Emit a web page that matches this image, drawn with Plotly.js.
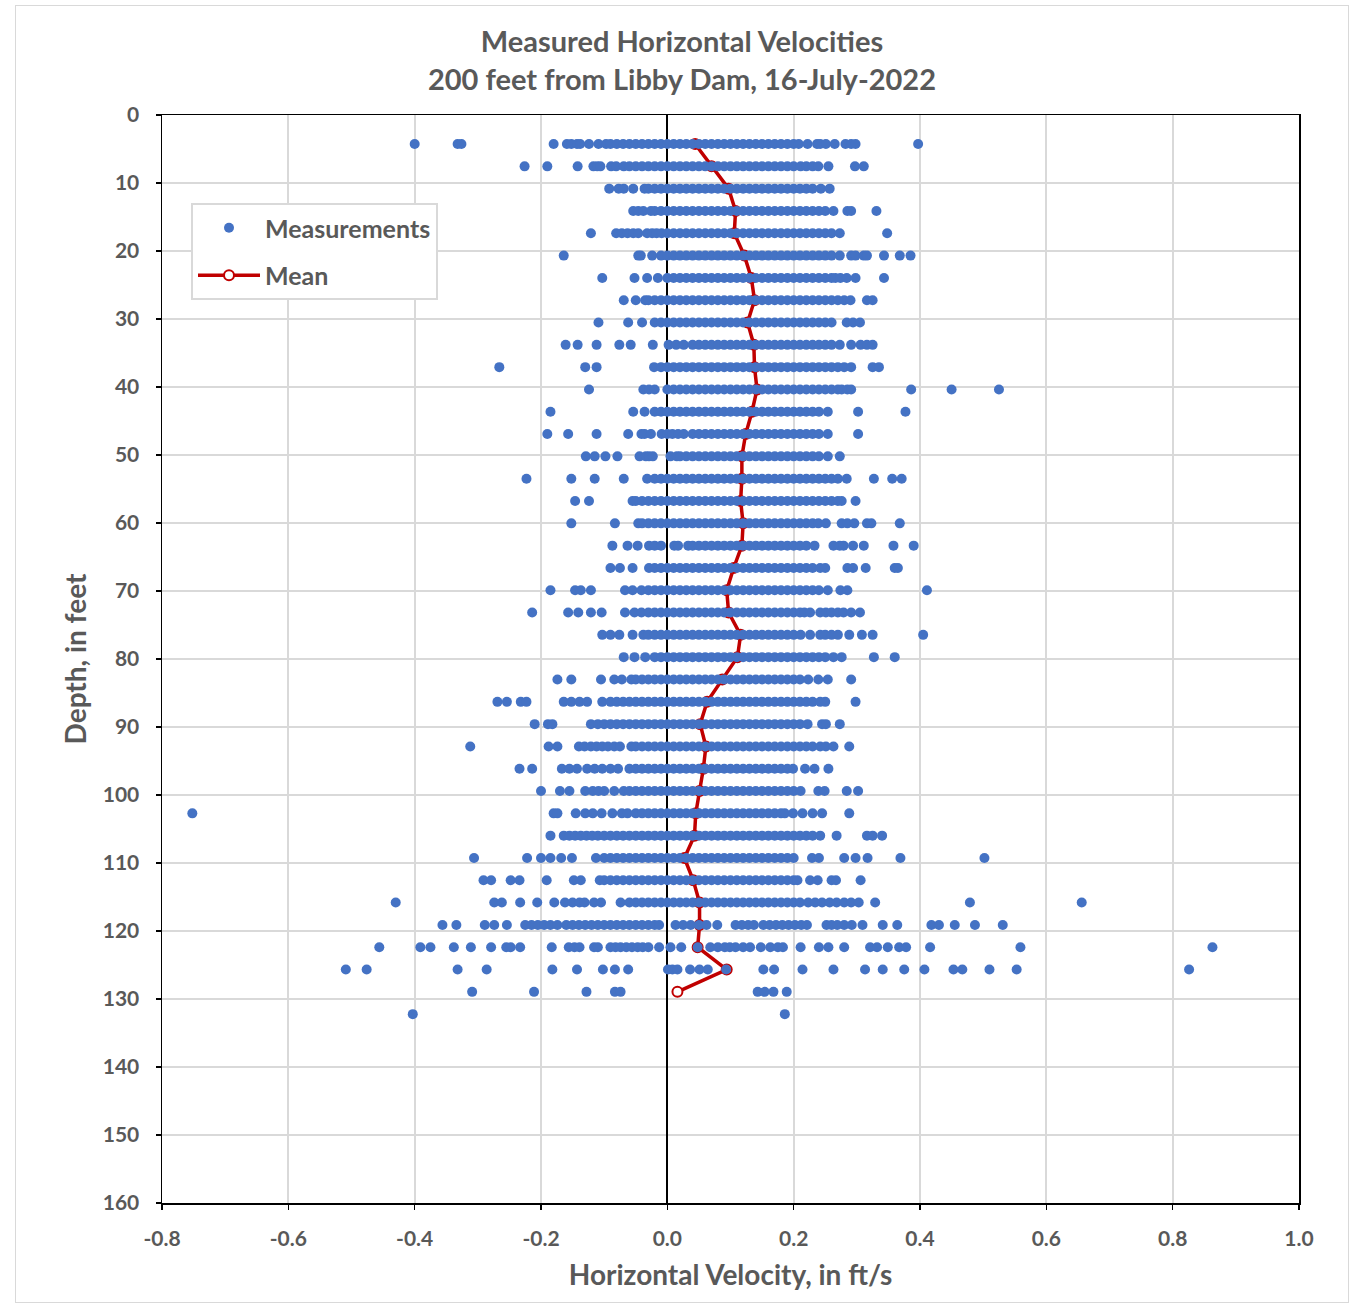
<!DOCTYPE html>
<html><head><meta charset="utf-8">
<script src="https://cdn.plot.ly/plotly-3.0.1.min.js"></script>
<style>
body{margin:0;background:#fff}
#wrap{position:absolute;left:15px;top:5px;width:1332px;height:1296px;border:1px solid #d9d9d9;}
#chart{width:1332px;height:1296px}
</style>
</head><body><div id="wrap"><div id="chart"></div></div>
<script>
// Depth of each measurement row (ft)
const depthFt = [4.27,7.55,10.83,14.11,17.39,20.68,23.96,27.24,30.52,33.80,37.08,40.36,43.64,46.92,50.20,53.49,56.77,60.05,63.33,66.61,69.89,73.17,76.45,79.73,83.01,86.30,89.58,92.86,96.14,99.42,102.70,105.98,109.26,112.54,115.82,119.11,122.39,125.67,128.95,132.23];

// Mean horizontal velocity per row (ft/s)
const meanVel = [0.044,0.07,0.097,0.108,0.106,0.122,0.133,0.138,0.127,0.137,0.138,0.142,0.134,0.124,0.118,0.118,0.116,0.12,0.118,0.105,0.094,0.097,0.116,0.111,0.087,0.063,0.052,0.061,0.057,0.051,0.045,0.043,0.027,0.041,0.051,0.051,0.048,0.094,0.016];

// Individual measurements per row (ft/s)
const v01 = [-0.40,-0.332,-0.326,-0.18,-0.159,-0.152,-0.143,-0.138,-0.124,-0.109,-0.097,-0.09,-0.08,-0.07,-0.06,-0.05,-0.04,-0.03,-0.02,-0.01,0.00,0.01,0.02,0.03,0.04,0.05,0.06,0.07,0.08,0.09,0.10,0.11,0.12,0.13,0.14,0.15,0.16,0.17,0.18,0.19,0.20,0.208,0.222,0.237,0.242,0.251,0.265,0.282,0.291,0.298,0.397];
const v02 = [-0.226,-0.19,-0.142,-0.117,-0.111,-0.106,-0.089,-0.081,-0.069,-0.06,-0.05,-0.04,-0.03,-0.02,-0.01,0.00,0.01,0.02,0.03,0.04,0.05,0.06,0.07,0.08,0.09,0.10,0.11,0.12,0.13,0.14,0.15,0.16,0.17,0.18,0.19,0.20,0.211,0.22,0.23,0.239,0.255,0.297,0.311];
const v03 = [-0.092,-0.077,-0.069,-0.054,-0.036,-0.03,-0.02,-0.01,0.00,0.01,0.02,0.03,0.04,0.05,0.06,0.07,0.08,0.09,0.10,0.11,0.12,0.13,0.14,0.15,0.16,0.17,0.18,0.19,0.20,0.21,0.22,0.23,0.243,0.257];
const v04 = [-0.054,-0.046,-0.038,-0.026,-0.02,-0.01,0.00,0.01,0.02,0.03,0.04,0.05,0.06,0.07,0.08,0.09,0.10,0.11,0.12,0.13,0.14,0.15,0.16,0.17,0.18,0.19,0.20,0.21,0.22,0.23,0.24,0.25,0.263,0.285,0.291,0.331];
const v05 = [-0.121,-0.081,-0.072,-0.063,-0.054,-0.046,-0.032,-0.024,-0.017,-0.009,0.00,0.01,0.02,0.03,0.04,0.05,0.06,0.07,0.08,0.09,0.10,0.11,0.12,0.13,0.14,0.15,0.16,0.17,0.18,0.19,0.20,0.21,0.22,0.23,0.24,0.25,0.26,0.273,0.348];
const v06 = [-0.164,-0.046,-0.042,-0.024,-0.01,0.00,0.01,0.02,0.03,0.04,0.05,0.06,0.07,0.08,0.09,0.10,0.11,0.12,0.13,0.14,0.15,0.16,0.17,0.18,0.19,0.20,0.21,0.22,0.23,0.24,0.25,0.26,0.273,0.291,0.298,0.311,0.316,0.343,0.368,0.385];
const v07 = [-0.103,-0.052,-0.032,-0.015,0.00,0.01,0.02,0.03,0.04,0.05,0.06,0.07,0.08,0.09,0.10,0.11,0.12,0.13,0.14,0.15,0.16,0.17,0.18,0.19,0.20,0.21,0.22,0.23,0.24,0.25,0.26,0.266,0.274,0.284,0.298,0.343];
const v08 = [-0.069,-0.05,-0.035,-0.03,-0.02,-0.01,0.00,0.01,0.02,0.03,0.04,0.05,0.06,0.07,0.08,0.09,0.10,0.11,0.12,0.13,0.14,0.15,0.16,0.17,0.18,0.19,0.20,0.21,0.22,0.23,0.24,0.25,0.26,0.27,0.28,0.29,0.316,0.325];
const v09 = [-0.109,-0.062,-0.04,-0.02,-0.01,0.00,0.01,0.02,0.03,0.04,0.05,0.06,0.07,0.08,0.09,0.10,0.11,0.12,0.13,0.14,0.15,0.16,0.17,0.18,0.19,0.20,0.21,0.22,0.23,0.24,0.25,0.26,0.284,0.294,0.305];
const v10 = [-0.161,-0.142,-0.112,-0.076,-0.058,-0.023,0.002,0.014,0.026,0.04,0.05,0.06,0.07,0.08,0.09,0.10,0.11,0.12,0.13,0.14,0.15,0.16,0.17,0.18,0.19,0.20,0.21,0.22,0.23,0.24,0.25,0.26,0.273,0.291,0.306,0.316,0.325];
const v11 = [-0.266,-0.13,-0.112,-0.021,-0.01,0.00,0.01,0.02,0.03,0.04,0.05,0.06,0.07,0.08,0.09,0.10,0.11,0.12,0.13,0.14,0.15,0.16,0.17,0.18,0.19,0.20,0.21,0.22,0.23,0.24,0.25,0.26,0.27,0.28,0.291,0.325,0.335];
const v12 = [-0.124,-0.038,-0.029,-0.02,0.00,0.01,0.02,0.03,0.04,0.05,0.06,0.07,0.08,0.09,0.10,0.11,0.12,0.13,0.14,0.15,0.16,0.17,0.18,0.19,0.20,0.21,0.22,0.23,0.24,0.25,0.26,0.27,0.276,0.285,0.291,0.386,0.45,0.525];
const v13 = [-0.185,-0.054,-0.036,-0.02,-0.01,0.00,0.01,0.02,0.03,0.04,0.05,0.06,0.07,0.08,0.09,0.10,0.11,0.12,0.13,0.14,0.15,0.16,0.17,0.18,0.19,0.20,0.21,0.22,0.23,0.24,0.254,0.302,0.377];
const v14 = [-0.19,-0.157,-0.112,-0.062,-0.041,-0.036,-0.026,-0.009,0.00,0.008,0.017,0.026,0.04,0.05,0.06,0.07,0.08,0.09,0.10,0.11,0.12,0.13,0.14,0.15,0.16,0.17,0.18,0.19,0.20,0.21,0.22,0.23,0.24,0.254,0.302];
const v15 = [-0.129,-0.115,-0.098,-0.079,-0.044,-0.034,-0.029,-0.023,0.005,0.015,0.02,0.03,0.04,0.05,0.06,0.07,0.08,0.09,0.10,0.11,0.12,0.13,0.14,0.15,0.16,0.17,0.18,0.19,0.20,0.21,0.22,0.23,0.24,0.254,0.273];
const v16 = [-0.223,-0.152,-0.115,-0.069,-0.032,-0.02,-0.01,0.00,0.01,0.02,0.03,0.04,0.05,0.06,0.07,0.08,0.09,0.10,0.11,0.12,0.13,0.14,0.15,0.16,0.17,0.18,0.19,0.20,0.21,0.22,0.23,0.24,0.25,0.26,0.27,0.284,0.327,0.356,0.371];
const v17 = [-0.146,-0.124,-0.055,-0.05,-0.04,-0.03,-0.02,-0.01,0.00,0.01,0.02,0.03,0.04,0.05,0.06,0.07,0.08,0.09,0.10,0.11,0.12,0.13,0.14,0.15,0.16,0.17,0.18,0.19,0.20,0.21,0.22,0.23,0.24,0.25,0.26,0.27,0.276,0.298];
const v18 = [-0.152,-0.083,-0.046,-0.04,-0.03,-0.02,-0.01,0.00,0.01,0.02,0.03,0.04,0.05,0.06,0.07,0.08,0.09,0.10,0.11,0.12,0.13,0.14,0.15,0.16,0.17,0.18,0.19,0.20,0.21,0.22,0.23,0.239,0.251,0.276,0.285,0.296,0.316,0.323,0.368];
const v19 = [-0.087,-0.063,-0.047,-0.029,-0.02,-0.01,0.011,0.017,0.033,0.04,0.05,0.06,0.07,0.08,0.09,0.10,0.11,0.12,0.13,0.14,0.15,0.16,0.17,0.18,0.19,0.20,0.21,0.22,0.233,0.263,0.273,0.279,0.294,0.311,0.358,0.39];
const v20 = [-0.09,-0.075,-0.055,-0.029,-0.02,-0.01,0.00,0.01,0.02,0.03,0.04,0.05,0.06,0.07,0.08,0.09,0.10,0.11,0.12,0.13,0.14,0.15,0.16,0.17,0.18,0.19,0.20,0.21,0.22,0.23,0.242,0.25,0.285,0.294,0.314,0.36,0.365];
const v21 = [-0.185,-0.146,-0.137,-0.121,-0.067,-0.055,-0.041,-0.03,-0.02,-0.01,0.00,0.01,0.02,0.03,0.04,0.05,0.06,0.07,0.08,0.09,0.10,0.11,0.12,0.13,0.14,0.15,0.16,0.17,0.18,0.19,0.20,0.21,0.22,0.23,0.24,0.254,0.274,0.285,0.411];
const v22 = [-0.214,-0.157,-0.141,-0.121,-0.104,-0.067,-0.052,-0.041,-0.03,-0.02,-0.01,0.00,0.01,0.02,0.03,0.04,0.05,0.06,0.07,0.08,0.09,0.10,0.11,0.12,0.13,0.14,0.15,0.16,0.17,0.18,0.19,0.20,0.21,0.217,0.226,0.242,0.251,0.26,0.27,0.279,0.291,0.305];
const v23 = [-0.103,-0.09,-0.076,-0.055,-0.038,-0.03,-0.02,-0.01,0.00,0.01,0.02,0.03,0.04,0.05,0.06,0.07,0.08,0.09,0.10,0.11,0.12,0.13,0.14,0.15,0.16,0.17,0.18,0.19,0.20,0.211,0.226,0.242,0.25,0.26,0.27,0.288,0.308,0.325,0.405];
const v24 = [-0.069,-0.052,-0.035,-0.02,-0.01,0.00,0.01,0.02,0.03,0.04,0.05,0.06,0.07,0.08,0.09,0.10,0.11,0.12,0.13,0.14,0.15,0.16,0.17,0.18,0.19,0.20,0.21,0.22,0.23,0.24,0.25,0.263,0.276,0.327,0.36];
const v25 = [-0.174,-0.152,-0.105,-0.084,-0.072,-0.057,-0.05,-0.04,-0.03,-0.02,-0.01,0.00,0.01,0.02,0.03,0.04,0.05,0.06,0.07,0.08,0.09,0.10,0.11,0.12,0.13,0.14,0.15,0.16,0.17,0.18,0.19,0.20,0.21,0.223,0.239,0.254,0.291];
const v26 = [-0.269,-0.254,-0.232,-0.223,-0.164,-0.152,-0.139,-0.127,-0.103,-0.09,-0.08,-0.07,-0.06,-0.05,-0.04,-0.03,-0.02,-0.01,0.00,0.01,0.02,0.03,0.04,0.05,0.06,0.07,0.08,0.09,0.10,0.11,0.12,0.13,0.14,0.15,0.16,0.17,0.18,0.19,0.20,0.21,0.22,0.23,0.242,0.25,0.298];
const v27 = [-0.21,-0.189,-0.182,-0.121,-0.11,-0.10,-0.09,-0.08,-0.07,-0.06,-0.05,-0.04,-0.03,-0.02,-0.01,0.00,0.01,0.02,0.03,0.04,0.05,0.06,0.07,0.08,0.09,0.10,0.11,0.12,0.13,0.14,0.15,0.16,0.17,0.18,0.19,0.20,0.21,0.222,0.245,0.251,0.273];
const v28 = [-0.312,-0.188,-0.174,-0.14,-0.131,-0.121,-0.112,-0.103,-0.094,-0.084,-0.075,-0.057,-0.05,-0.04,-0.03,-0.02,-0.01,0.00,0.01,0.02,0.03,0.04,0.05,0.06,0.07,0.08,0.09,0.10,0.11,0.12,0.13,0.14,0.15,0.16,0.17,0.18,0.19,0.20,0.21,0.22,0.23,0.242,0.251,0.263,0.288];
const v29 = [-0.234,-0.214,-0.167,-0.155,-0.143,-0.127,-0.115,-0.103,-0.09,-0.078,-0.06,-0.05,-0.04,-0.03,-0.02,-0.01,0.00,0.01,0.02,0.03,0.04,0.05,0.06,0.07,0.08,0.09,0.10,0.11,0.12,0.13,0.14,0.15,0.16,0.17,0.18,0.19,0.199,0.218,0.233,0.255];
const v30 = [-0.2,-0.17,-0.155,-0.13,-0.118,-0.109,-0.1,-0.084,-0.069,-0.06,-0.05,-0.04,-0.03,-0.02,-0.01,0.00,0.01,0.02,0.03,0.04,0.05,0.06,0.07,0.08,0.09,0.10,0.11,0.12,0.13,0.14,0.15,0.16,0.17,0.18,0.19,0.20,0.211,0.239,0.249,0.284,0.302];
const v31 = [-0.752,-0.18,-0.174,-0.145,-0.13,-0.118,-0.104,-0.087,-0.072,-0.063,-0.05,-0.04,-0.03,-0.02,-0.01,0.00,0.01,0.02,0.03,0.04,0.05,0.06,0.07,0.08,0.09,0.10,0.11,0.12,0.13,0.14,0.15,0.16,0.17,0.18,0.186,0.199,0.214,0.23,0.245,0.288];
const v32 = [-0.185,-0.164,-0.155,-0.146,-0.137,-0.128,-0.119,-0.11,-0.10,-0.09,-0.08,-0.07,-0.06,-0.05,-0.04,-0.03,-0.02,-0.01,0.00,0.01,0.02,0.03,0.04,0.05,0.06,0.07,0.08,0.09,0.10,0.11,0.12,0.13,0.14,0.15,0.16,0.17,0.18,0.19,0.20,0.21,0.22,0.23,0.242,0.268,0.316,0.325,0.34];
const v33 = [-0.306,-0.222,-0.2,-0.185,-0.168,-0.151,-0.113,-0.10,-0.09,-0.08,-0.07,-0.06,-0.05,-0.04,-0.03,-0.02,-0.01,0.00,0.01,0.02,0.03,0.04,0.05,0.06,0.07,0.08,0.09,0.10,0.11,0.12,0.13,0.14,0.15,0.16,0.17,0.18,0.19,0.20,0.229,0.24,0.28,0.298,0.317,0.369,0.502];
const v34 = [-0.291,-0.279,-0.248,-0.234,-0.191,-0.148,-0.137,-0.107,-0.10,-0.09,-0.08,-0.07,-0.06,-0.05,-0.04,-0.03,-0.02,-0.01,0.00,0.01,0.02,0.03,0.04,0.05,0.06,0.07,0.08,0.09,0.10,0.11,0.12,0.13,0.14,0.15,0.16,0.17,0.18,0.19,0.20,0.206,0.226,0.238,0.26,0.267,0.306];
const v35 = [-0.43,-0.274,-0.262,-0.233,-0.206,-0.179,-0.162,-0.15,-0.139,-0.131,-0.116,-0.105,-0.074,-0.06,-0.05,-0.04,-0.03,-0.02,-0.01,0.00,0.01,0.02,0.03,0.04,0.05,0.06,0.07,0.08,0.09,0.10,0.11,0.12,0.13,0.14,0.15,0.16,0.17,0.18,0.19,0.20,0.21,0.223,0.234,0.245,0.257,0.268,0.28,0.291,0.303,0.329,0.479,0.656];
const v36 = [-0.356,-0.334,-0.289,-0.274,-0.254,-0.225,-0.215,-0.205,-0.195,-0.185,-0.174,-0.16,-0.15,-0.14,-0.13,-0.12,-0.11,-0.10,-0.09,-0.08,-0.07,-0.06,-0.05,-0.04,-0.03,-0.02,-0.013,0.013,0.025,0.037,0.05,0.062,0.079,0.108,0.118,0.128,0.137,0.152,0.162,0.172,0.182,0.192,0.202,0.212,0.221,0.252,0.26,0.269,0.28,0.292,0.309,0.341,0.364,0.418,0.43,0.455,0.487,0.531];
const v37 = [-0.456,-0.391,-0.375,-0.338,-0.311,-0.279,-0.255,-0.248,-0.233,-0.183,-0.156,-0.147,-0.139,-0.116,-0.11,-0.09,-0.082,-0.074,-0.065,-0.056,-0.047,-0.039,-0.03,-0.013,0.005,0.022,0.048,0.068,0.08,0.091,0.099,0.108,0.12,0.131,0.148,0.163,0.175,0.183,0.211,0.24,0.255,0.28,0.321,0.332,0.349,0.367,0.378,0.416,0.559,0.863];
const v38 = [-0.509,-0.476,-0.332,-0.286,-0.182,-0.143,-0.102,-0.083,-0.062,0.001,0.008,0.016,0.036,0.051,0.064,0.093,0.152,0.169,0.214,0.263,0.313,0.341,0.375,0.407,0.453,0.467,0.51,0.553,0.826];
const v39 = [-0.309,-0.211,-0.128,-0.083,-0.074,0.143,0.154,0.168,0.189];
const v40 = [-0.403,0.186];

// Tick labels
const xTickVals = [-0.8,-0.6,-0.4,-0.2,0.0,0.2,0.4,0.6,0.8,1.0];
const xTickText = ['-0.8','-0.6','-0.4','-0.2','0.0','0.2','0.4','0.6','0.8','1.0'];
const yTickVals = [0,10,20,30,40,50,60,70,80,90,100,110,120,130,140,150,160];
const yTickText = ['0','10','20','30','40','50','60','70','80','90','100','110','120','130','140','150','160'];

const rowsVel = [v01,v02,v03,v04,v05,v06,v07,v08,v09,v10,v11,v12,v13,v14,v15,v16,v17,v18,v19,v20,v21,v22,v23,v24,v25,v26,v27,v28,v29,v30,v31,v32,v33,v34,v35,v36,v37,v38,v39,v40];
const mx = [], my = [];
rowsVel.forEach((r, i) => r.forEach(v => { mx.push(v); my.push(depthFt[i]); }));

const FONT = 'Lato, "Open Sans", sans-serif';
const GREY = '#595959';

const meanTrace = {
  x: meanVel, y: depthFt.slice(0, meanVel.length),
  type: 'scatter', mode: 'lines+markers', name: 'Mean',
  legendgroup: 'b', legendrank: 2,
  line: {color: '#C00000', width: 3.5},
  marker: {symbol: 'circle', size: 10, color: '#ffffff', line: {color: '#C00000', width: 2}},
  cliponaxis: false
};
const measTrace = {
  x: mx, y: my, type: 'scatter', mode: 'markers', name: 'Measurements',
  legendgroup: 'a', legendrank: 1,
  marker: {color: '#4472C4', size: 10}
};

const layout = {
  width: 1332, height: 1296,
  margin: {l: 146, r: 49, t: 109, b: 99},
  paper_bgcolor: '#ffffff', plot_bgcolor: '#ffffff',
  font: {family: FONT, color: GREY},
  showlegend: true,
  title: {
    text: 'Measured Horizontal Velocities<br>200 feet from Libby Dam, 16-July-2022',
    font: {family: FONT, size: 29, color: GREY, weight: 700},
    x: 0.5, xref: 'container', xanchor: 'center',
    y: 1 - 46/1296, yref: 'container', yanchor: 'middle'
  },
  xaxis: {
    range: [-0.8, 1.0], tickvals: xTickVals, ticktext: xTickText,
    showgrid: true, gridcolor: '#d9d9d9', gridwidth: 2,
    zeroline: true, zerolinecolor: '#000000', zerolinewidth: 2,
    showline: true, linecolor: '#000000', linewidth: 1.5, mirror: true,
    ticks: 'outside', ticklen: 5, tickcolor: '#000000', tickwidth: 1.5,
    ticklabelstandoff: 11,
    tickfont: {family: FONT, size: 21, color: GREY, weight: 700},
    title: {text: 'Horizontal Velocity, in ft/s', font: {family: FONT, size: 28, color: GREY, weight: 700}, standoff: 16},
    fixedrange: true
  },
  yaxis: {
    range: [160, 0], tickvals: yTickVals, ticktext: yTickText,
    showgrid: true, gridcolor: '#d9d9d9', gridwidth: 2,
    zeroline: false,
    showline: true, linecolor: '#000000', linewidth: 1.5, mirror: true,
    ticks: 'outside', ticklen: 5, tickcolor: '#000000', tickwidth: 1.5,
    ticklabelstandoff: 12,
    tickfont: {family: FONT, size: 21, color: GREY, weight: 700},
    title: {text: 'Depth, in feet', font: {family: FONT, size: 28, color: GREY, weight: 700}, standoff: 8},
    fixedrange: true
  },
  legend: {
    x: (191-162)/1137, y: 1 - (203-115)/1088, xanchor: 'left', yanchor: 'top',
    bgcolor: '#ffffff', bordercolor: '#d9d9d9', borderwidth: 2,
    font: {family: FONT, size: 25, color: GREY, weight: 700},
    traceorder: 'grouped', tracegroupgap: 12, itemwidth: 62
  }
};

Plotly.newPlot('chart', [meanTrace, measTrace], layout, {displayModeBar: false, staticPlot: true});
</script>
</body></html>
